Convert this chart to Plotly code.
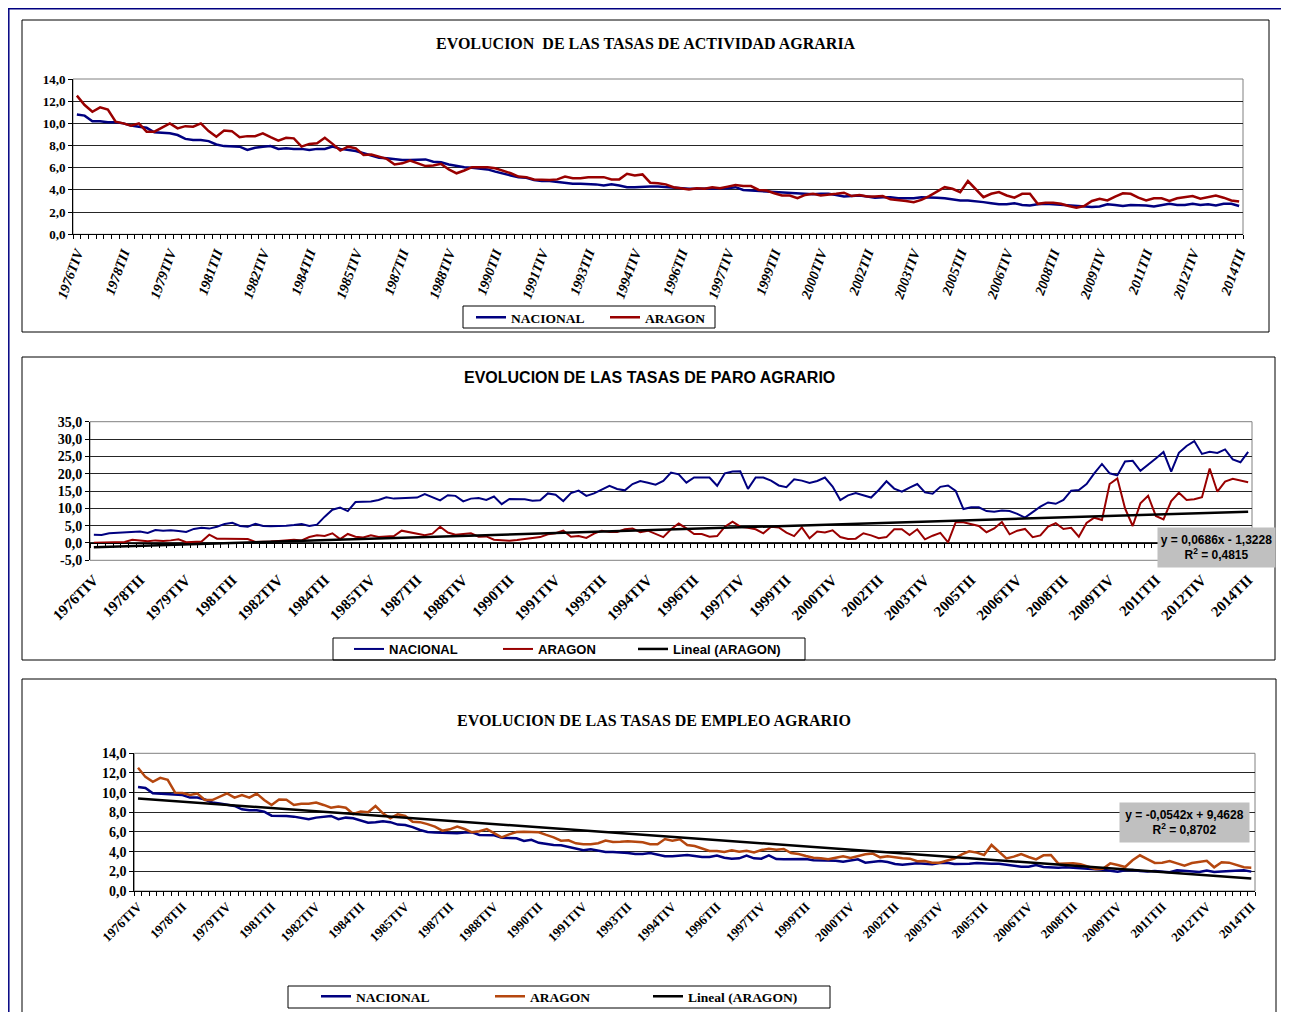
import plotly.graph_objects as go

# page is offset by the 8px body margin; the figure fills the rest of the window
OFF = 8
FW, FH = 1281, 1004

# ---------------- DATA ----------------
TICK_LABELS = ["1976TIV", "1978TII", "1979TIV", "1981TII", "1982TIV", "1984TII", "1985TIV",
               "1987TII", "1988TIV", "1990TII", "1991TIV", "1993TII", "1994TIV", "1996TII",
               "1997TIV", "1999TII", "2000TIV", "2002TII", "2003TIV", "2005TII", "2006TIV",
               "2008TII", "2009TIV", "2011TII", "2012TIV", "2014TII"]
TICK_POS = list(range(0, 151, 6))

ACT_NAC = [10.8, 10.7, 10.2, 10.2, 10.1, 10.1, 10.0, 9.8, 9.7, 9.6, 9.2, 9.15, 9.1, 8.95, 8.6, 8.5, 8.5, 8.4,
           8.1, 7.95, 7.9, 7.9, 7.6, 7.8, 7.9, 7.95, 7.7, 7.75, 7.7, 7.7, 7.6, 7.7, 7.7, 7.9, 7.7, 7.6, 7.5,
           7.3, 7.1, 6.9, 6.85, 6.75, 6.7, 6.7, 6.75, 6.75, 6.55, 6.5, 6.3, 6.15, 6.05, 6.0, 5.9, 5.85, 5.65,
           5.45, 5.3, 5.15, 5.1, 4.9, 4.8, 4.8, 4.7, 4.6, 4.55, 4.55, 4.55, 4.5, 4.4, 4.5, 4.4, 4.25, 4.25,
           4.3, 4.3, 4.3,
           4.25, 4.15, 4.1, 4.1, 4.1, 4.1, 4.1, 4.1, 4.15, 4.25, 4.0, 3.95, 3.9, 3.85, 3.8, 3.75, 3.75, 3.7,
           3.65, 3.6, 3.65, 3.65, 3.55, 3.4, 3.45, 3.5, 3.4, 3.3, 3.35, 3.35, 3.25, 3.25, 3.25, 3.35, 3.35,
           3.3, 3.25, 3.15, 3.05,
           3.05, 3.0, 2.9, 2.8, 2.7, 2.7, 2.8, 2.65, 2.6, 2.7, 2.75, 2.7, 2.65, 2.6, 2.6, 2.55, 2.45, 2.5,
           2.7, 2.65, 2.55, 2.65, 2.65, 2.6, 2.5, 2.65, 2.75, 2.65, 2.65, 2.75, 2.65, 2.7, 2.6, 2.75, 2.75, 2.55]

ACT_ARA = [12.5, 11.65, 11.05, 11.45, 11.25, 10.15, 10.0, 9.8, 10.0, 9.25, 9.25, 9.65, 10.0, 9.55, 9.75, 9.7,
           10.0, 9.3, 8.8, 9.35, 9.3, 8.75, 8.85, 8.85, 9.1, 8.75, 8.45, 8.7, 8.65, 7.9, 8.15, 8.2, 8.7, 8.15,
           7.55, 7.9, 7.75,
           7.15, 7.2, 7.0, 6.8, 6.3, 6.4, 6.65, 6.4, 6.15, 6.2, 6.35, 5.85, 5.5, 5.75, 6.05, 6.05, 6.05, 5.95,
           5.75, 5.5, 5.2, 5.15, 4.95, 4.9, 4.9, 4.95, 5.2, 5.05, 5.05, 5.15, 5.15, 5.15, 4.95, 4.95, 5.45,
           5.3, 5.4, 4.65, 4.6,
           4.5, 4.25, 4.15, 4.05, 4.15, 4.1, 4.25, 4.15, 4.3, 4.45, 4.35, 4.35, 4.0, 3.95, 3.7, 3.5, 3.5, 3.25,
           3.55, 3.65, 3.5, 3.55, 3.65, 3.75, 3.45, 3.55, 3.4, 3.4, 3.45, 3.15, 3.1, 3.0, 2.9, 3.1, 3.45, 3.85,
           4.25, 4.1, 3.8,
           4.8, 4.1, 3.35, 3.65, 3.8, 3.5, 3.3, 3.65, 3.65, 2.75, 2.85, 2.85, 2.75, 2.55, 2.4, 2.55, 3.0, 3.2,
           3.05, 3.4, 3.7, 3.65, 3.3, 3.05, 3.25, 3.25, 3.0, 3.25, 3.35, 3.45, 3.2, 3.35, 3.5, 3.3, 3.05, 2.95]

PARO_NAC = [2.4, 2.3, 2.8, 2.9, 3.0, 3.2, 3.3, 2.9, 3.75, 3.55, 3.65, 3.45, 3.2, 4.05, 4.4, 4.15, 4.7, 5.5,
            5.8, 4.9, 4.7, 5.5, 4.9, 4.8, 4.8, 5.0, 5.2, 5.5, 4.9, 5.3, 7.6, 9.6, 10.2, 9.2,
            11.8, 11.8, 12.0, 12.4, 13.2, 12.8, 12.9, 12.9, 13.1, 14.1, 13.2, 12.3, 13.8, 13.6, 12.0, 12.8,
            13.0, 12.4, 13.4, 11.2, 12.7, 12.7, 12.6, 12.2, 12.3, 14.3, 13.9, 12.1, 14.4, 15.1, 13.6, 14.3,
            15.3, 16.5, 15.6, 15.2, 17.0, 17.9, 17.4, 16.8,
            17.9, 20.3, 19.8, 17.4, 18.9, 18.9, 18.9, 16.5, 20.1, 20.6, 20.7, 15.6, 18.9, 18.9, 18.0, 16.6,
            16.1, 18.4, 18.0, 17.3, 17.9, 18.9, 16.3, 12.4, 13.75, 14.4, 13.65, 13.1, 15.3, 17.8, 15.7, 14.8,
            16.0, 17.0, 14.6, 14.2, 16.2, 16.6, 15.0,
            9.8, 10.3, 10.3, 9.2, 9.0, 9.4, 9.2, 8.4, 7.3, 8.9, 10.5, 11.7, 11.3, 12.4, 15.1, 15.3, 17.0, 20.1,
            22.8, 20.1, 19.5, 23.5, 23.7, 20.8, 22.5, 24.4, 26.25, 20.6, 26.0, 28.0, 29.4, 25.7, 26.3, 26.0,
            27.0, 24.1, 23.3, 26.3]

PARO_ARA = [0.1, 0.1, 0.1, 0.1, 0.3, 0.9, 0.7, 0.5, 0.75, 0.55, 0.75, 1.05, 0.2, 0.3, 0.4, 2.4, 1.25, 1.25,
            1.25, 1.25, 1.15, 0.3, 0.3, 0.4, 0.6, 0.85, 0.95, 0.75, 1.7, 2.2, 2.0, 2.8, 1.1, 2.6,
            1.8, 1.6, 2.2, 1.7, 1.9, 2.0, 3.55, 3.1, 2.6, 2.2, 2.7, 4.7, 3.0, 2.4, 2.6, 2.8, 1.8, 1.9, 0.95,
            0.75, 0.65, 0.85, 1.05, 1.45, 1.7, 2.5, 2.8, 3.55, 1.8, 2.0, 1.45, 2.7, 3.55, 3.2, 3.2, 3.95, 4.2,
            3.1, 3.55, 2.7,
            1.7, 3.95, 5.6, 4.2, 2.6, 2.6, 1.8, 2.0, 4.7, 6.15, 4.7, 4.4, 3.95, 2.8, 4.7, 4.5, 3.0, 2.0, 4.5,
            1.35, 3.3, 3.0, 3.65, 1.7, 1.15, 1.25, 2.8, 2.2, 1.35, 1.7, 3.95, 3.95, 2.3, 3.95, 1.05, 2.1, 2.9,
            0.2, 6.0,
            6.0, 5.4, 4.9, 3.1, 4.2, 6.05, 2.5, 3.55, 4.05, 1.65, 2.2, 4.7, 5.7, 4.05, 4.4, 1.8, 5.75, 7.3,
            6.65, 17.0, 18.65, 10.0, 4.9, 11.45, 13.65, 7.8, 6.8, 12.1, 14.5, 12.4, 12.6, 13.2, 21.5, 14.8,
            17.7, 18.5, 18.0, 17.5]

EMP_NAC = [10.58, 10.47, 9.93, 9.9, 9.86, 9.86, 9.76, 9.5, 9.5, 9.3, 9.0, 8.9, 8.8, 8.65, 8.3, 8.2, 8.2,
           8.07, 7.66, 7.66, 7.63, 7.56, 7.46, 7.3, 7.46, 7.56, 7.63, 7.3, 7.46, 7.4, 7.15, 6.95, 7.0, 7.1,
           7.0, 6.75,
           6.7, 6.5, 6.2, 6.0, 5.95, 5.9, 5.86, 5.86, 5.95, 5.97, 5.7, 5.7, 5.66, 5.42, 5.36, 5.36, 5.08, 5.2,
           4.9, 4.78, 4.68, 4.64, 4.47, 4.24, 4.14, 4.24, 4.1, 3.97, 3.97, 3.93, 3.86, 3.76, 3.76, 3.86, 3.66,
           3.53, 3.53, 3.63,
           3.66, 3.56, 3.46, 3.46, 3.6, 3.39, 3.29, 3.32, 3.6, 3.32, 3.29, 3.63, 3.25, 3.22, 3.25, 3.29, 3.25,
           3.12, 3.12, 3.12, 3.08, 2.98, 3.08, 3.22, 2.88, 2.98, 3.05, 2.95, 2.75, 2.68, 2.75, 2.81, 2.78,
           2.71, 2.85, 2.88, 2.75,
           2.75, 2.78, 2.85, 2.78, 2.78, 2.78, 2.68, 2.61, 2.47, 2.47, 2.64, 2.44, 2.37, 2.37, 2.41, 2.34,
           2.27, 2.27, 2.2, 2.17, 2.1, 1.97, 2.1, 2.14, 2.03, 1.97, 2.03, 1.97, 1.9, 2.1, 2.03, 1.97, 1.93,
           2.07, 1.93, 1.97, 2.0, 2.1, 2.1, 1.97]

EMP_ARA = [12.54, 11.6, 11.1, 11.5, 11.3, 10.0, 9.97, 9.76, 9.9, 9.25, 9.25, 9.56, 9.93, 9.5, 9.76, 9.5,
           9.9, 9.25, 8.75, 9.3, 9.28, 8.75, 8.88, 8.88, 9.0, 8.75, 8.47, 8.6, 8.47, 7.83, 8.07, 8.0, 8.64,
           7.9, 7.4, 7.8,
           7.63, 7.05, 7.0, 6.8, 6.54, 6.14, 6.27, 6.54, 6.3, 5.97, 6.07, 6.3, 5.86, 5.46, 5.76, 6.0, 6.03,
           6.03, 5.97, 5.7, 5.46, 5.12, 5.15, 4.85, 4.75, 4.75, 4.85, 5.12, 4.98, 5.0, 5.05, 5.0, 4.95, 4.75,
           4.75, 5.29, 5.12, 5.25,
           4.68, 4.58, 4.34, 4.07, 4.07, 3.97, 4.14, 4.0, 4.1, 3.93, 4.17, 4.3, 4.2, 4.27, 3.86, 3.76, 3.56,
           3.39, 3.32, 3.22, 3.39, 3.53, 3.36, 3.53, 3.73, 3.8, 3.42, 3.53, 3.39, 3.32, 3.29, 3.02, 3.05, 2.88,
           2.88, 3.1, 3.3,
           3.73, 4.03, 3.9, 3.66, 4.68, 4.0, 3.32, 3.49, 3.76, 3.46, 3.22, 3.63, 3.66, 2.78, 2.78, 2.81, 2.71,
           2.47, 2.24, 2.27, 2.81, 2.64, 2.44, 3.12, 3.63, 3.25, 2.85, 2.88, 3.05, 2.81, 2.58, 2.85, 2.98,
           3.08, 2.41, 2.92, 2.88, 2.64, 2.41, 2.37]

# Excel linear trend lines (coefficients shown on the chart)
TREND_PARO = (0.0686, -1.3228)
TREND_EMP = (-0.0542, 9.4628)

N = len(ACT_NAC)
X = list(range(N))
trend_paro = [TREND_PARO[0] * (i + 1) + TREND_PARO[1] for i in X]
trend_emp = [TREND_EMP[0] * (i + 1) + TREND_EMP[1] for i in X]

# ---------------- STYLE ----------------
NAVY = "#000080"
DRED = "#990000"
ORANGE = "#B5470F"
SERIF = "Liberation Serif"
SANS = "Liberation Sans"


def fx(px):
    return (px - OFF) / FW


def fy(py):
    return 1 - (py - OFF) / FH


fig = go.Figure()


def add_line(y, name, color, width, xa, ya, leg):
    fig.add_trace(go.Scatter(x=X, y=y, mode="lines", name=name, line=dict(color=color, width=width),
                             xaxis=xa, yaxis=ya, legend=leg, showlegend=True))


# Chart 1
add_line(ACT_NAC, "NACIONAL", NAVY, 2.5, "x", "y", "legend")
add_line(ACT_ARA, "ARAGON", DRED, 2.5, "x", "y", "legend2")
# Chart 2
add_line(PARO_NAC, "NACIONAL", NAVY, 2, "x2", "y2", "legend3")
add_line(PARO_ARA, "ARAGON", DRED, 2, "x2", "y2", "legend4")
add_line(trend_paro, "Lineal (ARAGON)", "black", 2.5, "x2", "y2", "legend5")
fig.add_trace(go.Scatter(x=[], y=[], mode="lines", showlegend=False, xaxis="x4", yaxis="y2"))
# Chart 3
add_line(EMP_NAC, "NACIONAL", NAVY, 2.5, "x3", "y3", "legend6")
add_line(EMP_ARA, "ARAGON", ORANGE, 2.5, "x3", "y3", "legend7")
add_line(trend_emp, "Lineal (ARAGON)", "black", 2.5, "x3", "y3", "legend8")

bnd = [i - 0.5 for i in range(N + 1)]
xr = [-0.5, N - 0.5]


def xaxis_cfg(left, right, anchor, angle, size, italic=False, standoff=4, labels=True, line=True):
    font = dict(family=SERIF, size=size, color="black", weight="bold")
    if italic:
        font["style"] = "italic"
    return dict(domain=[fx(left), fx(right)], anchor=anchor, range=xr, tickmode="array",
                tickvals=TICK_POS, ticktext=TICK_LABELS, ticks="", tickangle=angle,
                showticklabels=labels, tickfont=font, showgrid=False, zeroline=False,
                showline=line, linecolor="black", linewidth=1, ticklabelstandoff=standoff,
                minor=dict(tickmode="array", tickvals=bnd, ticks="outside" if line else "",
                           ticklen=4, tickcolor="black", showgrid=False))


def yaxis_cfg(top, bottom, anchor, vals, size):
    return dict(domain=[fy(bottom), fy(top)], anchor=anchor, range=[vals[0], vals[-1]],
                tickmode="array", tickvals=vals,
                ticktext=[("%.1f" % v).replace(".", ",") for v in vals],
                ticks="outside", ticklen=4, tickcolor="black",
                tickfont=dict(family=SERIF, size=size, color="black", weight="bold"),
                showgrid=True, gridcolor="#262626", gridwidth=1, zeroline=False,
                showline=True, linecolor="black", linewidth=1)


Y1 = [0, 2, 4, 6, 8, 10, 12, 14]
Y2 = [-5, 0, 5, 10, 15, 20, 25, 30, 35]
Y3 = [0, 2, 4, 6, 8, 10, 12, 14]

# plot-area pixel boxes (page pixels)
P1 = (73, 79, 1243, 234.3)
P2 = (90, 421.7, 1252, 560.3)
P3 = (134.3, 753.3, 1255, 891)
zero_px = P2[3] - (0 - Y2[0]) / (Y2[-1] - Y2[0]) * (P2[3] - P2[1])

fig.update_layout(
    width=FW, height=FH, margin=dict(l=0, r=0, t=0, b=0, autoexpand=False),
    paper_bgcolor="white", plot_bgcolor="white", hovermode=False, showlegend=True,
    xaxis=xaxis_cfg(P1[0], P1[2], "y", -70, 14, italic=True, standoff=4),
    yaxis=yaxis_cfg(P1[1], P1[3], "x", Y1, 13),
    xaxis2=xaxis_cfg(P2[0], P2[2], "y2", -45, 15, standoff=7, line=False),
    yaxis2=yaxis_cfg(P2[1], P2[3], "x2", Y2, 14),
    xaxis4=dict(xaxis_cfg(P2[0], P2[2], "free", -45, 15, labels=False), overlaying="x2",
                position=fy(zero_px)),
    xaxis3=xaxis_cfg(P3[0], P3[2], "y3", -45, 13, standoff=2),
    yaxis3=yaxis_cfg(P3[1], P3[3], "x3", Y3, 14),
)

leg_common = dict(orientation="h", xanchor="left", yanchor="top", bgcolor="rgba(0,0,0,0)",
                  borderwidth=0, itemwidth=30, tracegroupgap=0, visible=True)
F1 = dict(family=SERIF, size=13.5, color="black", weight="bold")
F2 = dict(family=SANS, size=13, color="black", weight="bold")
# (legend name, line-sample start px, top px, font)
LEG_POS = [("legend", 478, 302, F1), ("legend2", 612, 302, F1),
           ("legend3", 356, 634, F2), ("legend4", 505, 634, F2), ("legend5", 640, 634, F2),
           ("legend6", 323, 981, F1), ("legend7", 497, 981, F1), ("legend8", 655, 981, F1)]
legs = {}
for name, lx, ty, fnt in LEG_POS:
    legs[name] = dict(leg_common, x=fx(lx - 7), y=fy(ty), font=fnt)
fig.update_layout(**legs)

shapes = []
# page frame
shapes.append(dict(type="line", xref="paper", yref="paper", x0=0, x1=1, y0=fy(8.8), y1=fy(8.8),
                   line=dict(color="#000080", width=1.5)))
shapes.append(dict(type="line", xref="paper", yref="paper", x0=fx(8.8), x1=fx(8.8), y0=fy(8), y1=0,
                   line=dict(color="#000080", width=1.5)))
# chart boxes
for (x0, y0, x1, y1) in [(22, 20, 1269, 332), (22, 357, 1275, 660), (22, 679, 1276, 1030)]:
    shapes.append(dict(type="rect", xref="paper", yref="paper", x0=fx(x0), x1=fx(x1), y0=fy(y1), y1=fy(y0),
                       line=dict(color="black", width=1), fillcolor="rgba(0,0,0,0)"))
# legend boxes
for (x0, y0, x1, y1) in [(463, 306, 715, 328), (333, 638, 805, 660), (288, 986, 830, 1008)]:
    shapes.append(dict(type="rect", xref="paper", yref="paper", x0=fx(x0), x1=fx(x1), y0=fy(y1), y1=fy(y0),
                       line=dict(color="black", width=1), fillcolor="white", layer="below"))
# plot-area borders (gray)
for ax in ["", "2", "3"]:
    shapes.append(dict(type="rect", xref="x%s domain" % ax, yref="y%s domain" % ax, x0=0, x1=1, y0=0, y1=1,
                       line=dict(color="#808080", width=1), layer="below"))
fig.update_layout(shapes=shapes)

ann = []
ann.append(dict(text="EVOLUCION\u00a0 DE LAS TASAS DE ACTIVIDAD AGRARIA", x=fx(645.5), y=fy(44),
                xref="paper", yref="paper", showarrow=False, xanchor="center", yanchor="middle",
                font=dict(family=SERIF, size=16, color="black", weight="bold")))
ann.append(dict(text="EVOLUCION DE LAS TASAS DE PARO AGRARIO", x=fx(649), y=fy(377),
                xref="paper", yref="paper", showarrow=False, xanchor="center", yanchor="middle",
                font=dict(family=SANS, size=16, color="black", weight="bold")))
ann.append(dict(text="EVOLUCION DE LAS TASAS DE EMPLEO AGRARIO", x=fx(654), y=fy(720),
                xref="paper", yref="paper", showarrow=False, xanchor="center", yanchor="middle",
                font=dict(family=SERIF, size=16, color="black", weight="bold")))
ann.append(dict(text="y = 0,0686x - 1,3228<br>R<sup>2</sup> = 0,4815", x=fx(1216.5), y=fy(547.5),
                xref="paper", yref="paper", showarrow=False, xanchor="center", yanchor="middle",
                bgcolor="#C0C0C0", width=117, height=39, borderpad=0, align="center",
                font=dict(family=SANS, size=12, color="black", weight="bold")))
ann.append(dict(text="y = -0,0542x + 9,4628<br>R<sup>2</sup> = 0,8702", x=fx(1184.5), y=fy(822.5),
                xref="paper", yref="paper", showarrow=False, xanchor="center", yanchor="middle",
                bgcolor="#C0C0C0", width=129, height=39, borderpad=0, align="center",
                font=dict(family=SANS, size=12, color="black", weight="bold")))
fig.update_layout(annotations=ann)

fig.write_html("out.html")
